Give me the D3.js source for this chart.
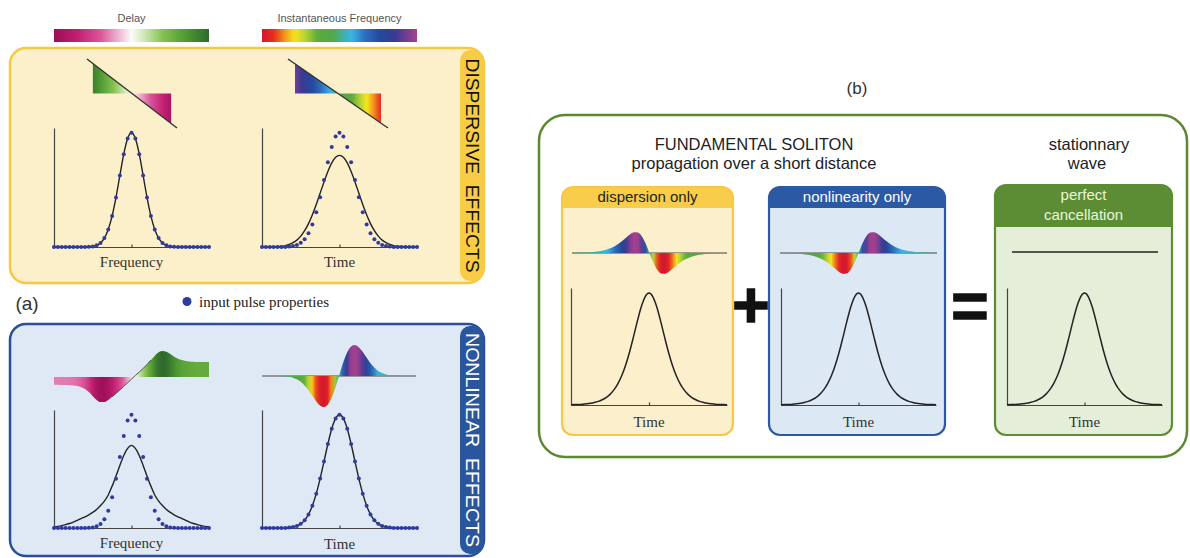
<!DOCTYPE html>
<html><head><meta charset="utf-8">
<script src="https://cdn.jsdelivr.net/npm/d3@7"></script>
<style>body{margin:0;background:#fff}</style>
</head><body>
<script>
// ---------------- DATA ----------------
const sampleT = [-1,-0.95,-0.9,-0.85,-0.8,-0.75,-0.7,-0.65,-0.6,-0.55,-0.5,-0.45,-0.4,-0.35,-0.3,-0.25,-0.2,-0.15,-0.1,-0.05,0,0.05,0.1,0.15,0.2,0.25,0.3,0.35,0.4,0.45,0.5,0.55,0.6,0.65,0.7,0.75,0.8,0.85,0.9,0.95,1];

// input pulse spectrum (normalised amplitude)
const inputSpectrum = [0,0,0,0,0,0,0,0,0,0.002,0.005,0.014,0.034,0.075,0.147,0.261,0.417,0.601,0.780,0.911,0.960,0.911,0.780,0.601,0.417,0.261,0.147,0.075,0.034,0.014,0.005,0.002,0,0,0,0,0,0,0,0,0];
// input pulse temporal profile
const inputPulse = [0,0,0,0,0,0,0.001,0.004,0.008,0.017,0.035,0.065,0.115,0.189,0.291,0.419,0.564,0.712,0.841,0.929,0.960,0.929,0.841,0.712,0.564,0.419,0.291,0.189,0.115,0.065,0.035,0.017,0.008,0.004,0.001,0,0,0,0,0,0];
// temporal profile after dispersion
const dispersedPulse = [0,0,0.001,0.002,0.003,0.006,0.012,0.021,0.036,0.058,0.091,0.137,0.196,0.271,0.357,0.452,0.547,0.635,0.707,0.754,0.770,0.754,0.707,0.635,0.547,0.452,0.357,0.271,0.196,0.137,0.091,0.058,0.036,0.021,0.012,0.006,0.003,0.002,0.001,0,0];
// spectrum after nonlinearity (broadened)
const broadenedSpectrum = [0.010,0.014,0.020,0.028,0.038,0.050,0.065,0.080,0.095,0.112,0.132,0.157,0.190,0.228,0.280,0.355,0.440,0.530,0.615,0.675,0.700,0.675,0.615,0.530,0.440,0.355,0.280,0.228,0.190,0.157,0.132,0.112,0.095,0.080,0.065,0.050,0.038,0.028,0.020,0.014,0.010];
// group delay vs frequency under nonlinearity
const nlDelay = [-0.30,-0.30,-0.31,-0.31,-0.32,-0.33,-0.35,-0.39,-0.46,-0.58,-0.74,-0.88,-0.96,-0.96,-0.88,-0.76,-0.63,-0.50,-0.36,-0.22,-0.08,0.06,0.19,0.33,0.48,0.65,0.82,0.95,1.00,0.97,0.88,0.78,0.70,0.65,0.62,0.60,0.59,0.58,0.58,0.58,0.58];
// instantaneous frequency vs time under nonlinearity (SPM chirp)
const nlChirp = [0,0,0,0,-0.002,-0.005,-0.013,-0.027,-0.055,-0.103,-0.181,-0.295,-0.446,-0.624,-0.803,-0.944,-1.0,-0.933,-0.727,-0.400,0,0.400,0.727,0.933,1.0,0.944,0.803,0.624,0.446,0.295,0.181,0.103,0.055,0.027,0.013,0.005,0.002,0,0,0,0];
// linear (dispersive) delay and chirp
const gddFreq = [-1, 1], gddDelay = [1, -1];
const chirpTime = [-1, 1], chirpFreq = [1, -1];
// fundamental soliton
const solitonPulse = [0.002,0.004,0.005,0.007,0.0105,0.015,0.022,0.031,0.045,0.063,0.091,0.129,0.181,0.250,0.340,0.451,0.580,0.715,0.838,0.925,0.957,0.925,0.838,0.715,0.580,0.451,0.340,0.250,0.181,0.129,0.091,0.063,0.045,0.031,0.022,0.015,0.0105,0.007,0.005,0.004,0.002];
const solitonChirpDisp = [0.006,0.009,0.013,0.019,0.028,0.041,0.058,0.083,0.118,0.166,0.236,0.325,0.441,0.583,0.741,0.890,0.988,0.976,0.803,0.458,0,-0.458,-0.803,-0.976,-0.988,-0.890,-0.741,-0.583,-0.441,-0.325,-0.236,-0.166,-0.118,-0.083,-0.058,-0.041,-0.028,-0.019,-0.013,-0.009,-0.006];
const solitonChirpNL = [-0.006,-0.009,-0.013,-0.019,-0.028,-0.041,-0.058,-0.083,-0.118,-0.166,-0.236,-0.325,-0.441,-0.583,-0.741,-0.890,-0.988,-0.976,-0.803,-0.458,0,0.458,0.803,0.976,0.988,0.890,0.741,0.583,0.441,0.325,0.236,0.166,0.118,0.083,0.058,0.041,0.028,0.019,0.013,0.009,0.006];
const cancelT = [-1, 1], cancelV = [0, 0];

// colour scales
const delayStops = [-1,-0.7,-0.4,-0.15,0,0.15,0.4,0.7,1];
const delayColors = ["#9a0f55","#c21f72","#d9579a","#f0bcd6","#fbfbf7","#d3e9bd","#86c250","#4f9a33","#2e6a2c"];
const freqStops = [-1,-0.84,-0.7,-0.58,-0.44,-0.28,-0.08,0.06,0.16,0.32,0.52,0.72,0.88,1];
const freqColors = ["#d4162e","#e8321f","#f39a1d","#f6e61b","#b5d334","#5aaa3c","#52a848","#3fb0b0","#38b6e6","#2f6fc0","#23499c","#3a3a93","#7a3f93","#a6408c"];

// ---------------- DRAW ----------------
const W = 1190, H = 558;
const svg = d3.select("body").append("svg").attr("width", W).attr("height", H)
  .style("font-family", "'Liberation Sans', Arial, sans-serif");
const defs = svg.append("defs");
let gid = 0;
const delayColor = d3.scaleLinear().domain(delayStops).range(delayColors).clamp(true);
const freqColor = d3.scaleLinear().domain(freqStops).range(freqColors).clamp(true);
const SERIF = "'Liberation Serif', 'Times New Roman', serif";

function hGradient(x1, x2, pts, color) {
  const id = "grad" + (gid++);
  const lg = defs.append("linearGradient").attr("id", id).attr("gradientUnits", "userSpaceOnUse")
    .attr("x1", x1).attr("x2", x2).attr("y1", 0).attr("y2", 0);
  pts.forEach(p => lg.append("stop").attr("offset", p.o).attr("stop-color", color(p.v)));
  return `url(#${id})`;
}

// colour bars
function colorBar(x0, x1, y, h, color, label) {
  const s = d3.scaleLinear().domain([-1, 1]).range([0, 1]);
  const pts = d3.range(-1, 1.0001, 0.05).map(v => ({o: s(v), v}));
  svg.append("rect").attr("x", x0).attr("y", y).attr("width", x1 - x0).attr("height", h)
    .attr("fill", hGradient(x0, x1, pts, color));
  svg.append("text").attr("x", (x0 + x1) / 2).attr("y", y - 7).attr("text-anchor", "middle")
    .attr("font-size", 11).attr("fill", "#555").text(label);
}
colorBar(54, 209, 29, 13, delayColor, "Delay");
colorBar(262, 417, 29, 13, freqColor, "Instantaneous Frequency");

// panels (a)
function sidePanel(y, h, fill, stroke, tabFill, label, textColor) {
  svg.append("rect").attr("x", 10).attr("y", y).attr("width", 474).attr("height", h).attr("rx", 16)
    .attr("fill", fill).attr("stroke", stroke).attr("stroke-width", 2.5);
  svg.append("rect").attr("x", 460).attr("y", y + 2).attr("width", 23.5).attr("height", h - 4).attr("rx", 10)
    .attr("fill", tabFill);
  svg.append("text").attr("transform", `translate(472,${y + h / 2}) rotate(90)`)
    .attr("text-anchor", "middle").attr("dominant-baseline", "central")
    .attr("font-size", 19).attr("fill", textColor).style("white-space", "pre")
    .attr("textLength", 214).attr("lengthAdjust", "spacingAndGlyphs").text(label);
}
sidePanel(48, 235, "#fcf0cb", "#f6c843", "#f8cd45", "DISPERSIVE  EFFECTS", "#111");
sidePanel(324, 232, "#dee9f5", "#2b4e9a", "#2b559d", "NONLINEAR  EFFECTS", "#fff");

// pulse plot
function pulsePlot({x0, x1, yTop, yBase, line, dots, label, labelY, lineW = 1.4}) {
  const g = svg.append("g");
  const x = d3.scaleLinear().domain([-1, 1]).range([x0, x1]);
  const y = d3.scaleLinear().domain([0, 1]).range([yBase, yTop]);
  const ax = g.append("g").attr("transform", `translate(0,${yBase})`)
    .call(d3.axisBottom(x).tickValues([0]).tickSize(-2.5).tickSizeOuter(0).tickFormat(""));
  const ay = g.append("g").attr("transform", `translate(${x0},0)`)
    .call(d3.axisLeft(y).tickValues([]).tickSizeOuter(0));
  [ax, ay].forEach(a => { a.selectAll("path,line").attr("stroke", "#444").attr("stroke-width", 1.2); });
  if (line) {
    g.append("path").datum(sampleT.map((t, i) => [t, line[i]]))
      .attr("d", d3.line().x(d => x(d[0])).y(d => y(d[1])).curve(d3.curveMonotoneX))
      .attr("fill", "none").attr("stroke", "#222").attr("stroke-width", lineW);
  }
  if (dots) {
    g.selectAll("circle.dot").data(sampleT.map((t, i) => [t, dots[i]])).enter().append("circle")
      .attr("cx", d => x(d[0])).attr("cy", d => y(d[1])).attr("r", 2).attr("fill", "#2f3ba0");
  }
  g.append("text").attr("x", x(0)).attr("y", labelY).attr("text-anchor", "middle")
    .attr("font-family", SERIF).attr("font-size", 15).attr("fill", "#333").text(label);
}

// lobe (chirp / delay) diagram coloured by value
function lobeDiagram({x0, x1, y0, amp, values, color, baseline = true, midStroke = false}) {
  const g = svg.append("g");
  const x = d3.scaleLinear().domain([-1, 1]).range([x0, x1]);
  const y = d3.scaleLinear().domain([-1, 1]).range([y0 + amp, y0 - amp]);
  const data = sampleT.map((t, i) => ({t, v: values[i]}));
  if (baseline) {
    g.append("path").datum([-1, 1]).attr("d", d3.line().x(d => x(d)).y(() => y(0)))
      .attr("stroke", "#444").attr("stroke-width", 1.1);
  }
  const pts = data.map(d => ({o: (x(d.t) - x0) / (x1 - x0), v: d.v}));
  g.append("path").datum(data)
    .attr("d", d3.area().x(d => x(d.t)).y0(y(0)).y1(d => y(d.v)).curve(d3.curveMonotoneX))
    .attr("fill", hGradient(x0, x1, pts, color));
  if (midStroke) {
    g.append("path").datum(data.filter(d => Math.abs(d.t) <= 0.25))
      .attr("d", d3.line().x(d => x(d.t)).y(d => y(d.v)).curve(d3.curveMonotoneX))
      .attr("fill", "none").attr("stroke", "#444").attr("stroke-width", 0.9);
  }
}

// linear diagram (dispersion)
function linearDiagram({cx, cy, halfW, halfH, frac, ts, vs, color}) {
  const g = svg.append("g");
  const x = d3.scaleLinear().domain([-1, 1]).range([cx - halfW, cx + halfW]);
  const y = d3.scaleLinear().domain([-1, 1]).range([cy + halfH, cy - halfH]);
  const val = d3.scaleLinear().domain(ts).range(vs);
  const data = ts.map((t, i) => ({t, v: vs[i]}));
  const cid = "clip" + (gid++);
  defs.append("clipPath").attr("id", cid).append("rect")
    .attr("x", x(-frac)).attr("y", cy - halfH - 5).attr("width", x(frac) - x(-frac)).attr("height", 2 * halfH + 10);
  const pts = d3.range(-frac, frac + 1e-9, frac / 12).map(t => ({o: (x(t) - x(-frac)) / (x(frac) - x(-frac)), v: val(t)}));
  g.append("path").datum(data).attr("clip-path", `url(#${cid})`)
    .attr("d", d3.area().x(d => x(d.t)).y0(y(0)).y1(d => y(d.v)))
    .attr("fill", hGradient(x(-frac), x(frac), pts, color));
  g.append("path").datum(data).attr("d", d3.line().x(d => x(d.t)).y(d => y(d.v)))
    .attr("fill", "none").attr("stroke", "#333").attr("stroke-width", 1.4);
}

// --- dispersive effects
linearDiagram({cx: 132, cy: 93.5, halfW: 45, halfH: 34.5, frac: 0.87, ts: gddFreq, vs: gddDelay, color: delayColor});
linearDiagram({cx: 338, cy: 93.5, halfW: 50, halfH: 34.5, frac: 0.86, ts: chirpTime, vs: chirpFreq, color: freqColor});
pulsePlot({x0: 54, x1: 209, yTop: 128, yBase: 247, line: inputSpectrum, dots: inputSpectrum, label: "Frequency", labelY: 267});
pulsePlot({x0: 262, x1: 417, yTop: 128, yBase: 247, line: dispersedPulse, dots: inputPulse, label: "Time", labelY: 267});

// --- nonlinear effects
lobeDiagram({x0: 54, x1: 209, y0: 377, amp: 26, values: nlDelay, color: delayColor, baseline: false, midStroke: true});
lobeDiagram({x0: 262, x1: 416, y0: 376, amp: 31, values: nlChirp, color: freqColor});
pulsePlot({x0: 54, x1: 209, yTop: 410, yBase: 528, line: broadenedSpectrum, dots: inputSpectrum, label: "Frequency", labelY: 548});
pulsePlot({x0: 262, x1: 417, yTop: 410, yBase: 528, line: inputPulse, dots: inputPulse, label: "Time", labelY: 549});

// (a) and legend
svg.append("text").attr("x", 27).attr("y", 310).attr("text-anchor", "middle").attr("font-size", 19).attr("fill", "#333").text("(a)");
svg.append("circle").attr("cx", 187).attr("cy", 301.5).attr("r", 4.5).attr("fill", "#2c3d9f");
svg.append("text").attr("x", 199).attr("y", 306.5).attr("font-family", SERIF).attr("font-size", 15).attr("fill", "#222").text("input pulse properties");

// ---------------- panel (b) ----------------
svg.append("text").attr("x", 857).attr("y", 94).attr("text-anchor", "middle").attr("font-size", 17).attr("fill", "#333").text("(b)");
svg.append("rect").attr("x", 539).attr("y", 115).attr("width", 648).attr("height", 342).attr("rx", 26)
  .attr("fill", "#fff").attr("stroke", "#5a8a30").attr("stroke-width", 2.5);
svg.append("text").attr("x", 754).attr("y", 150).attr("text-anchor", "middle").attr("font-size", 16.5).attr("fill", "#222").text("FUNDAMENTAL SOLITON");
svg.append("text").attr("x", 754).attr("y", 169).attr("text-anchor", "middle").attr("font-size", 16.5).attr("fill", "#222").text("propagation over a short distance");
svg.append("text").attr("x", 1089).attr("y", 150).attr("text-anchor", "middle").attr("font-size", 16.5).attr("fill", "#222").text("stationnary");
svg.append("text").attr("x", 1087).attr("y", 169).attr("text-anchor", "middle").attr("font-size", 16.5).attr("fill", "#222").text("wave");

function subBox({x, y, w, h, headH, fill, head, stroke, lines, textColor}) {
  const cid = "clip" + (gid++);
  defs.append("clipPath").attr("id", cid).append("rect").attr("x", x).attr("y", y).attr("width", w).attr("height", h).attr("rx", 11);
  const g = svg.append("g");
  g.append("rect").attr("x", x).attr("y", y).attr("width", w).attr("height", h).attr("fill", fill).attr("clip-path", `url(#${cid})`);
  g.append("rect").attr("x", x).attr("y", y).attr("width", w).attr("height", headH).attr("fill", head).attr("clip-path", `url(#${cid})`);
  g.append("rect").attr("x", x).attr("y", y).attr("width", w).attr("height", h).attr("rx", 11)
    .attr("fill", "none").attr("stroke", stroke).attr("stroke-width", 2.2);
  lines.forEach((t, i) => g.append("text").attr("x", x + w / 2).attr("y", y + 15 + i * 20)
    .attr("text-anchor", "middle").attr("font-size", 15).attr("fill", textColor).text(t));
}
subBox({x: 562, y: 187, w: 171, h: 248, headH: 21, fill: "#fcefcb", head: "#f9cd4b", stroke: "#f6c843", lines: ["dispersion only"], textColor: "#222"});
subBox({x: 769, y: 187, w: 176, h: 248, headH: 21, fill: "#dde8f5", head: "#2c59a3", stroke: "#2c59a3", lines: ["nonlinearity only"], textColor: "#fff"});
subBox({x: 995, y: 185, w: 177, h: 250, headH: 42, fill: "#e4eed8", head: "#5c8c33", stroke: "#5c8c33", lines: ["perfect", "cancellation"], textColor: "#eaf6d8"});

lobeDiagram({x0: 572, x1: 727, y0: 253, amp: 21, values: solitonChirpDisp, color: freqColor});
lobeDiagram({x0: 780, x1: 937, y0: 253, amp: 21, values: solitonChirpNL, color: freqColor});
{
  const x = d3.scaleLinear().domain([-1, 1]).range([1012, 1158]);
  const y = d3.scaleLinear().domain([-1, 1]).range([273, 231]);
  svg.append("path").datum(cancelT.map((t, i) => [t, cancelV[i]]))
    .attr("d", d3.line().x(d => x(d[0])).y(d => y(d[1])))
    .attr("stroke", "#222").attr("stroke-width", 1.6);
}
pulsePlot({x0: 571, x1: 727, yTop: 288, yBase: 405, line: solitonPulse, label: "Time", labelY: 427, lineW: 1.5});
pulsePlot({x0: 781, x1: 936, yTop: 288, yBase: 405, line: solitonPulse, label: "Time", labelY: 427, lineW: 1.5});
pulsePlot({x0: 1007, x1: 1162, yTop: 288, yBase: 405, line: solitonPulse, label: "Time", labelY: 427, lineW: 1.5});

svg.append("text").attr("x", 751).attr("y", 305).attr("text-anchor", "middle").attr("dominant-baseline", "central")
  .attr("font-size", 64).attr("font-weight", "bold").attr("fill", "#111").attr("stroke", "#111").attr("stroke-width", 1.5).text("+");
svg.append("text").attr("x", 970).attr("y", 306).attr("text-anchor", "middle").attr("dominant-baseline", "central")
  .attr("font-size", 64).attr("font-weight", "bold").attr("fill", "#111").attr("stroke", "#111").attr("stroke-width", 1.5).text("=");
</script>
</body></html>
